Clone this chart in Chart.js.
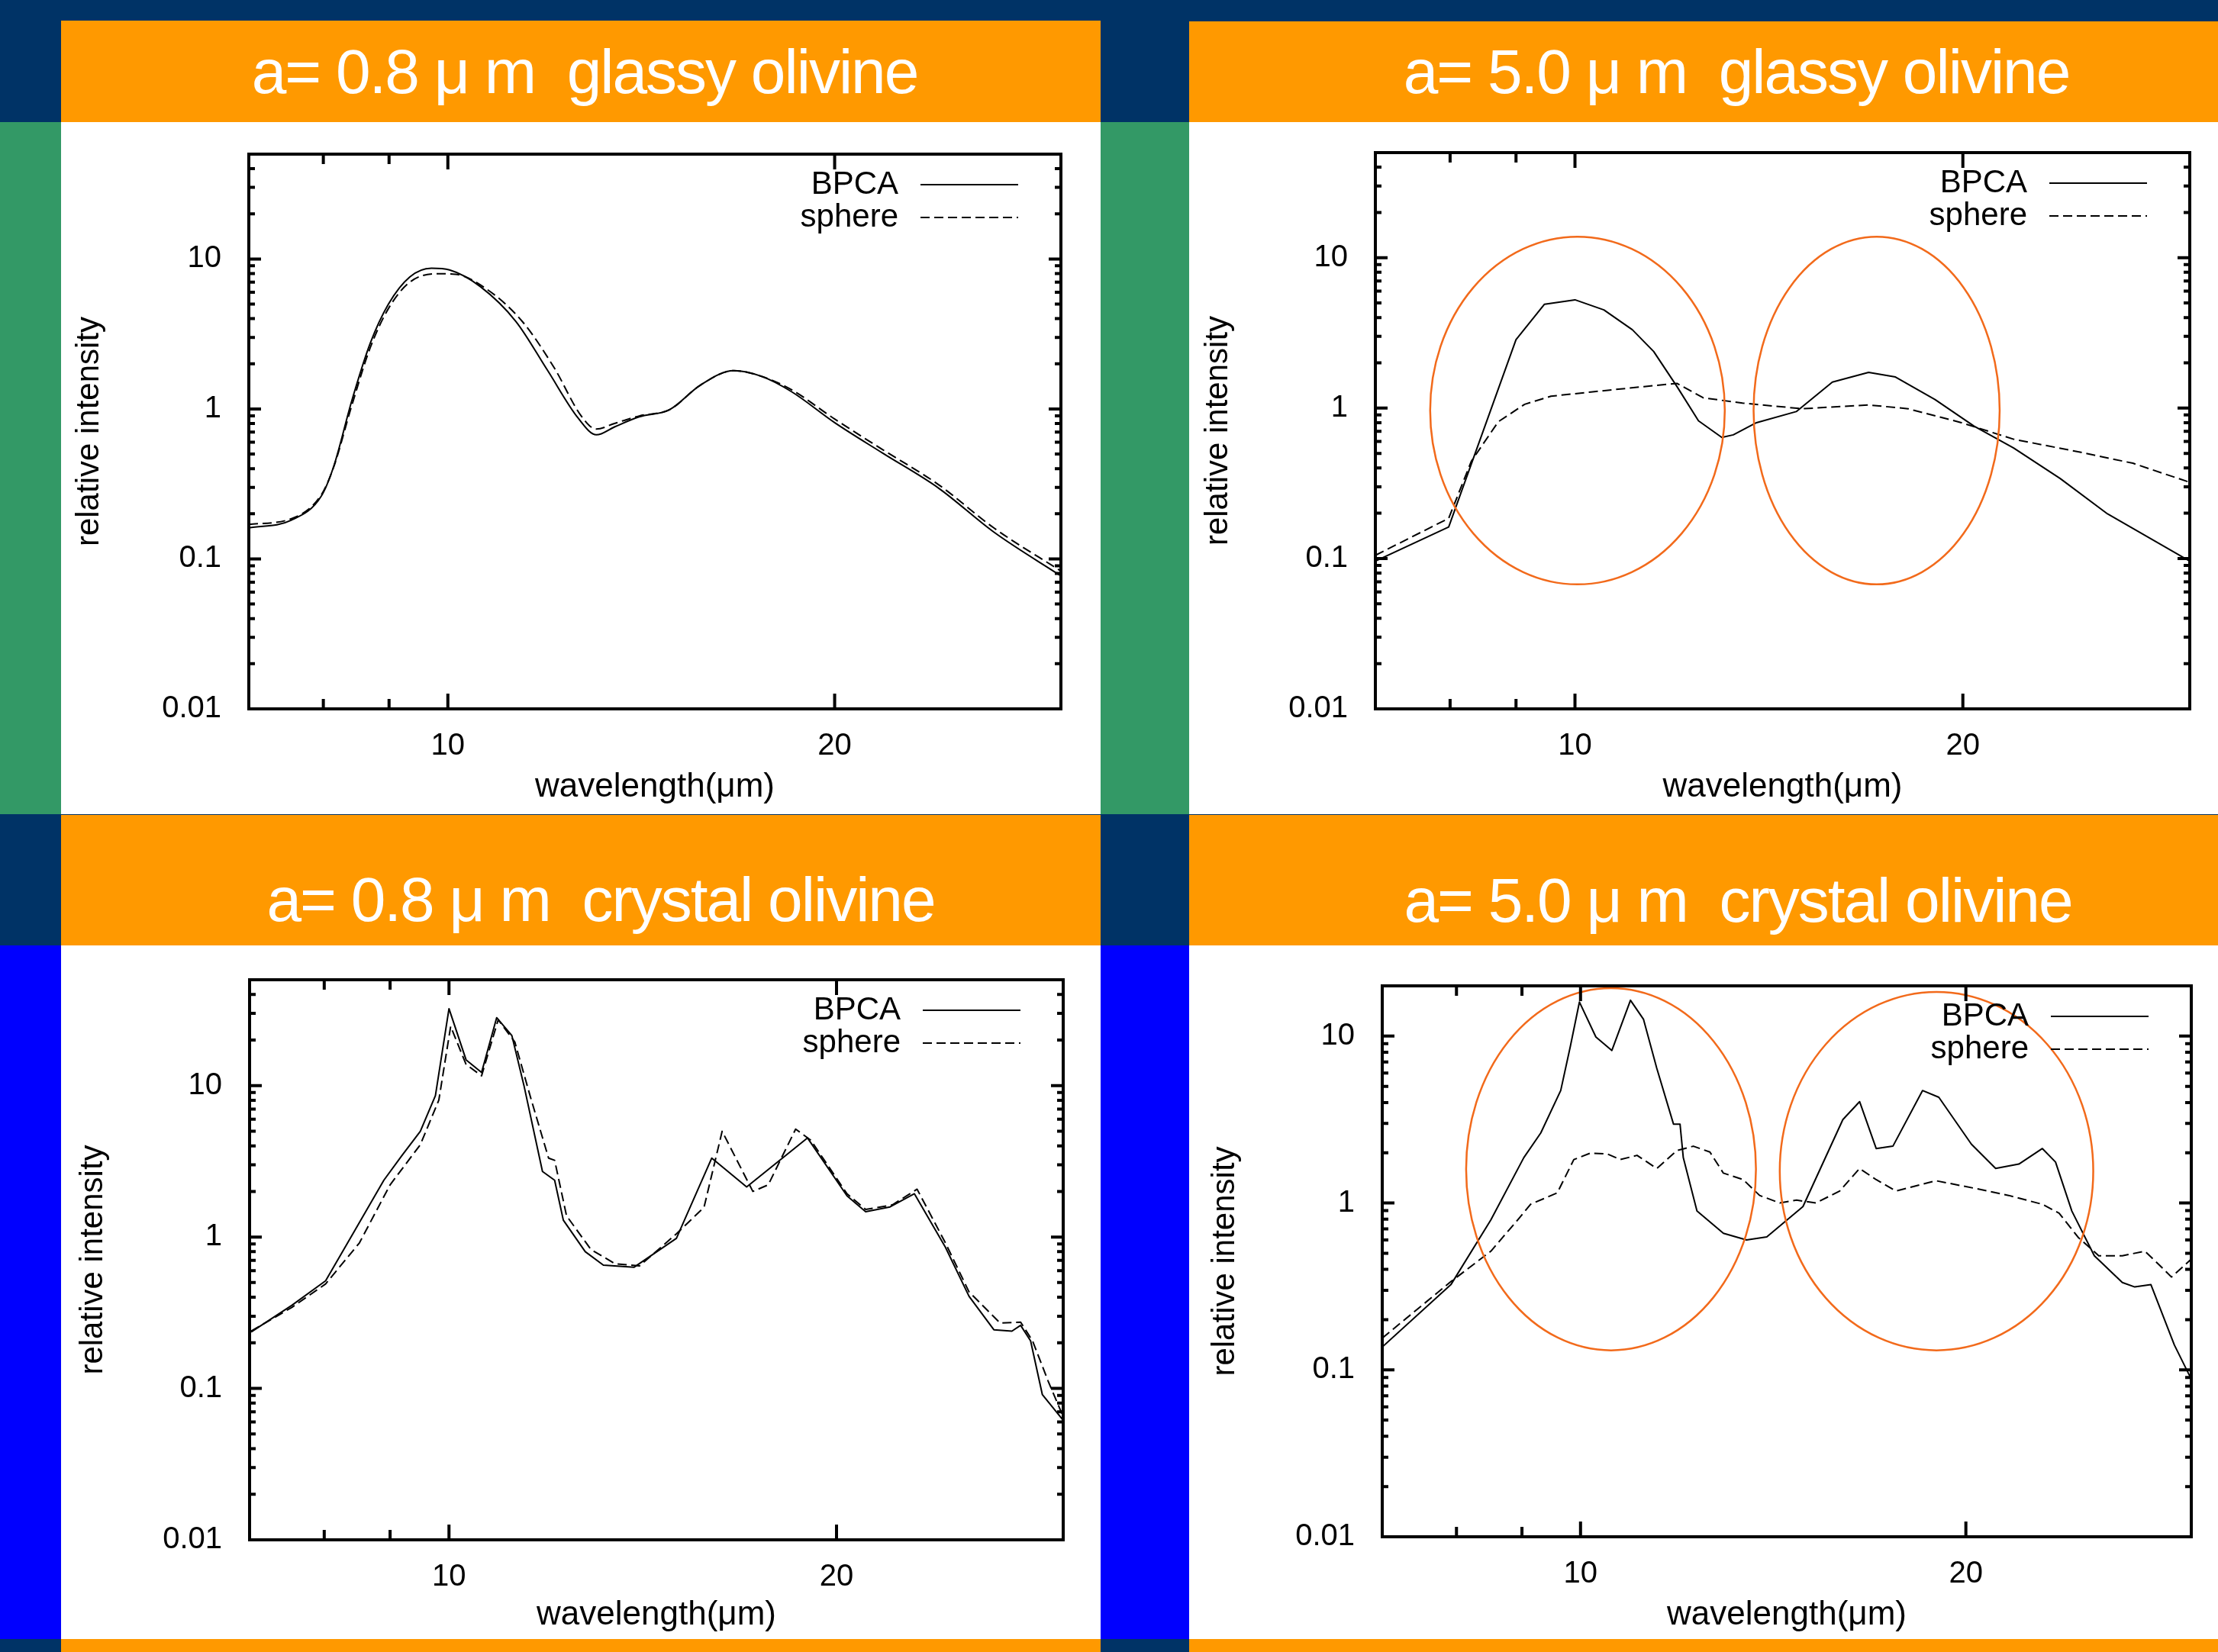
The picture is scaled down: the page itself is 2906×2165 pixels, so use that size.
<!DOCTYPE html>
<html>
<head>
<meta charset="utf-8">
<script src="https://cdn.jsdelivr.net/npm/chart.js@4.4.1/dist/chart.umd.min.js"></script>
<style>
  body { margin: 0; width: 2906px; height: 2165px; background: #003366; position: relative; overflow: hidden;
         font-family: "Liberation Sans", Arial, sans-serif; }
  .blk { position: absolute; }
  .orange { background: #ff9900; }
  .green { background: #339966; }
  .blue { background: #0000ff; }
  .panel { position: absolute; background: #fff; }
  .hdr { position: absolute; color: #fff; font-size: 82px; line-height: 82px; letter-spacing: -2px;
         white-space: pre; transform: translateX(-50%); }
  canvas { display: block; }
</style>
</head>
<body>
<!-- side strips -->
<div class="blk green" style="left:0;top:160px;width:80px;height:907px"></div>
<div class="blk blue" style="left:0;top:1239px;width:80px;height:909px"></div>
<div class="blk green" style="left:1442px;top:160px;width:116px;height:907px"></div>
<div class="blk blue" style="left:1442px;top:1239px;width:116px;height:909px"></div>

<!-- header bars -->
<div class="blk orange" style="left:80px;top:27px;width:1362px;height:133px"></div>
<div class="blk orange" style="left:1558px;top:28px;width:1348px;height:132px"></div>
<div class="blk orange" style="left:80px;top:1068px;width:1362px;height:171px"></div>
<div class="blk orange" style="left:1558px;top:1068px;width:1348px;height:171px"></div>
<div class="blk orange" style="left:80px;top:2148px;width:1362px;height:17px"></div>
<div class="blk orange" style="left:1558px;top:2148px;width:1348px;height:17px"></div>

<div class="hdr" style="left:766px;top:53px">a= 0.8 μ m  glassy olivine</div>
<div class="hdr" style="left:2275px;top:53px">a= 5.0 μ m  glassy olivine</div>
<div class="hdr" style="left:787px;top:1138px">a= 0.8 μ m  crystal olivine</div>
<div class="hdr" style="left:2277px;top:1139px">a= 5.0 μ m  crystal olivine</div>

<div class="panel" style="left:80px;top:160px;width:1362px;height:907px"><canvas id="tl" width="1362" height="907"></canvas></div>
<div class="panel" style="left:1558px;top:160px;width:1348px;height:907px"><canvas id="tr" width="1348" height="907"></canvas></div>
<div class="panel" style="left:80px;top:1239px;width:1362px;height:909px"><canvas id="bl" width="1362" height="909"></canvas></div>
<div class="panel" style="left:1558px;top:1239px;width:1348px;height:909px"><canvas id="br" width="1348" height="909"></canvas></div>

<script>
/* global Chart */

// axis ticks
const xTickValues = [8, 9, 10, 20, 30];
const xTickLabels = [10, 20];
const yDecades = [0.01, 0.1, 1, 10];
const yMinorSteps = [1, 2, 3, 4, 5, 6, 7, 8, 9];

// a = 0.8 um glassy olivine
const tlBpcaWave = [7.0, 7.55, 7.97, 8.15, 8.42, 8.70, 8.99, 9.34, 9.71, 10.03, 10.6, 11.3, 11.95, 12.63, 13.05, 13.48, 14.09, 14.88, 15.72, 16.69, 17.54, 18.52, 20.0, 21.8, 24.1, 26.6, 30.0];
const tlBpcaVal = [0.161, 0.181, 0.262, 0.414, 1.14, 2.73, 5.0, 7.59, 8.68, 8.45, 6.54, 3.82, 1.82, 0.869, 0.672, 0.759, 0.886, 0.99, 1.44, 1.80, 1.65, 1.30, 0.81, 0.507, 0.296, 0.151, 0.077];
const tlSphereWave = [7.0, 7.55, 7.97, 8.15, 8.42, 8.70, 8.99, 9.34, 9.82, 10.14, 10.72, 11.43, 12.1, 12.7, 13.05, 13.48, 14.09, 14.88, 15.72, 16.69, 17.54, 18.52, 20.0, 21.8, 24.1, 26.6, 30.0];
const tlSphereVal = [0.170, 0.185, 0.267, 0.41, 1.06, 2.55, 4.67, 7.0, 7.98, 7.9, 6.3, 3.82, 1.88, 0.898, 0.734, 0.80, 0.898, 0.99, 1.44, 1.80, 1.65, 1.34, 0.856, 0.535, 0.312, 0.161, 0.083];

// a = 5.0 um glassy olivine
const trBpcaWave = [7.0, 7.98, 9.0, 9.47, 10.0, 10.53, 11.08, 11.51, 12.0, 12.47, 13.0, 13.27, 13.83, 14.85, 15.84, 16.9, 17.73, 19.03, 20.4, 21.9, 23.8, 25.9, 30.0];
const trBpcaVal = [0.096, 0.162, 2.85, 4.91, 5.25, 4.5, 3.32, 2.38, 1.39, 0.823, 0.638, 0.664, 0.80, 0.948, 1.49, 1.73, 1.61, 1.14, 0.759, 0.543, 0.34, 0.198, 0.096];
const trSphereWave = [7.0, 7.98, 8.31, 8.72, 9.14, 9.58, 10.29, 11.31, 12.0, 12.58, 13.49, 15.02, 16.9, 18.14, 19.95, 21.9, 24.7, 27.1, 30.0];
const trSphereVal = [0.105, 0.185, 0.444, 0.812, 1.06, 1.20, 1.28, 1.39, 1.46, 1.17, 1.08, 0.99, 1.05, 0.99, 0.80, 0.621, 0.508, 0.43, 0.321];

// a = 0.8 um crystal olivine
const blBpcaWave = [7.02, 7.55, 8.02, 8.42, 8.90, 9.19, 9.50, 9.76, 10.0, 10.31, 10.6, 10.89, 11.19, 11.44, 11.82, 12.08, 12.27, 12.76, 13.18, 13.92, 15.02, 16.0, 17.03, 18.99, 20.38, 21.07, 22.01, 22.99, 24.3, 25.35, 26.5, 27.37, 27.8, 28.3, 28.9, 30.0];
const blBpcaVal = [0.236, 0.354, 0.514, 1.05, 2.37, 3.44, 4.99, 8.59, 32.2, 14.8, 12.2, 28.1, 21.4, 9.84, 2.71, 2.37, 1.29, 0.80, 0.652, 0.631, 0.98, 3.32, 2.14, 4.51, 1.87, 1.47, 1.58, 1.93, 0.856, 0.406, 0.244, 0.239, 0.261, 0.206, 0.0912, 0.0616];
const blSphereWave = [7.02, 7.55, 8.02, 8.52, 9.0, 9.5, 9.82, 10.03, 10.31, 10.6, 10.92, 11.25, 11.56, 11.95, 12.08, 12.34, 12.89, 13.46, 14.06, 15.02, 15.78, 16.30, 17.22, 17.7, 18.59, 19.1, 20.38, 21.07, 22.1, 23.1, 24.3, 25.35, 26.8, 27.8, 28.4, 29.2, 30.0];
const blSphereVal = [0.239, 0.343, 0.49, 0.915, 2.21, 4.07, 8.02, 24.6, 13.8, 11.6, 27.2, 19.4, 8.59, 3.32, 3.21, 1.38, 0.827, 0.666, 0.644, 1.05, 1.57, 4.99, 2.0, 2.21, 5.16, 4.36, 1.93, 1.52, 1.63, 2.07, 0.915, 0.434, 0.27, 0.274, 0.206, 0.112, 0.065];

// a = 5.0 um crystal olivine
const brBpcaWave = [7.0, 7.92, 8.51, 9.03, 9.31, 9.65, 9.82, 9.98, 10.28, 10.58, 10.94, 11.2, 11.47, 11.82, 11.96, 12.03, 12.33, 12.93, 13.48, 13.98, 14.92, 16.03, 16.52, 17.02, 17.54, 18.5, 19.05, 20.2, 21.1, 22.0, 22.95, 23.5, 24.2, 25.2, 26.5, 27.1, 27.9, 29.1, 30.0];
const brBpcaVal = [0.137, 0.324, 0.791, 1.87, 2.63, 4.72, 8.73, 16.0, 9.88, 8.2, 16.4, 12.6, 6.42, 2.97, 2.97, 1.87, 0.895, 0.658, 0.6, 0.627, 0.952, 3.16, 4.05, 2.12, 2.19, 4.72, 4.3, 2.25, 1.61, 1.71, 2.12, 1.76, 0.895, 0.483, 0.334, 0.314, 0.324, 0.141, 0.088];
const brSphereWave = [7.0, 7.92, 8.51, 8.93, 9.14, 9.59, 9.88, 10.18, 10.49, 10.74, 11.07, 11.47, 11.89, 12.25, 12.62, 12.93, 13.4, 13.8, 14.31, 14.75, 15.27, 15.94, 16.52, 17.02, 17.64, 18.95, 20.37, 21.6, 22.95, 23.65, 24.5, 25.4, 26.5, 27.6, 28.3, 28.95, 30.0];
const brSphereVal = [0.155, 0.338, 0.514, 0.791, 0.982, 1.15, 1.82, 1.99, 1.97, 1.82, 1.93, 1.61, 2.06, 2.19, 2.02, 1.51, 1.38, 1.11, 1.0, 1.04, 1.0, 1.18, 1.61, 1.38, 1.18, 1.36, 1.22, 1.11, 0.982, 0.869, 0.618, 0.483, 0.483, 0.514, 0.428, 0.36, 0.461];

// highlighted bands: [wave from, wave to, intensity low, intensity high]
const trEllipses = [[7.72, 13.07, 0.0673, 13.8], [13.76, 21.36, 0.0673, 13.8]];
const brEllipses = [[8.14, 13.71, 0.131, 19.4], [14.31, 25.15, 0.131, 18.4]];

Chart.defaults.font.family = '"Liberation Sans", Arial, sans-serif';
Chart.defaults.color = '#000';

function points(xs, ys) {
    return xs.map((x, i) => ({ x: x, y: ys[i] }));
}

function yTickValues(ymax) {
    const out = [];
    yDecades.forEach(d => yMinorSteps.forEach(m => out.push(d * m)));
    return out.filter(v => v <= ymax * 1.0001);
}

// gnuplot-style frame with inward ticks on all four sides
const gnuFrame = {
    id: 'gnuFrame',
    afterDatasetsDraw(chart) {
        const { ctx, chartArea: a, scales: { x, y } } = chart;
        ctx.save();
        ctx.strokeStyle = '#000';
        ctx.lineWidth = 4;
        ctx.lineCap = 'butt';
        ctx.beginPath();
        x.ticks.forEach(t => {
            const px = x.getPixelForValue(t.value);
            const len = xTickLabels.includes(t.value) ? 20 : 13;
            ctx.moveTo(px, a.bottom);
            ctx.lineTo(px, a.bottom - len);
            ctx.moveTo(px, a.top);
            ctx.lineTo(px, a.top + len);
        });
        y.ticks.forEach(t => {
            const py = y.getPixelForValue(t.value);
            const len = yDecades.includes(t.value) ? 16 : 8;
            ctx.moveTo(a.left, py);
            ctx.lineTo(a.left + len, py);
            ctx.moveTo(a.right, py);
            ctx.lineTo(a.right - len, py);
        });
        ctx.stroke();
        ctx.strokeRect(a.left, a.top, a.right - a.left, a.bottom - a.top);
        ctx.restore();
    }
};

// key in the top right corner: label, then a line sample
const gnuKey = {
    id: 'gnuKey',
    afterDraw(chart) {
        const { ctx, chartArea: a } = chart;
        ctx.save();
        ctx.font = '42px "Liberation Sans", Arial, sans-serif';
        ctx.fillStyle = '#000';
        ctx.textAlign = 'right';
        ctx.textBaseline = 'middle';
        chart.data.datasets.forEach((ds, i) => {
            const yy = a.top + 40 + i * 43;
            ctx.fillText(ds.label, a.right - 213, yy);
            ctx.strokeStyle = '#000';
            ctx.lineWidth = 2;
            ctx.setLineDash(ds.borderDash || []);
            ctx.beginPath();
            ctx.moveTo(a.right - 184, yy);
            ctx.lineTo(a.right - 56, yy);
            ctx.stroke();
        });
        ctx.restore();
    }
};

// orange ellipses given in data coordinates
const bands = {
    id: 'bands',
    afterDatasetsDraw(chart, args, opts) {
        const { ctx, scales: { x, y } } = chart;
        ctx.save();
        ctx.strokeStyle = '#f26a1b';
        ctx.lineWidth = 2.5;
        (opts.list || []).forEach(e => {
            const x1 = x.getPixelForValue(e[0]), x2 = x.getPixelForValue(e[1]);
            const y1 = y.getPixelForValue(e[2]), y2 = y.getPixelForValue(e[3]);
            ctx.beginPath();
            ctx.ellipse((x1 + x2) / 2, (y1 + y2) / 2, Math.abs(x2 - x1) / 2, Math.abs(y2 - y1) / 2, 0, 0, Math.PI * 2);
            ctx.stroke();
        });
        ctx.restore();
    }
};

function makeChart(p) {
    const lineStyle = {
        borderColor: '#000',
        borderWidth: 2,
        pointRadius: 0,
        fill: false,
        borderJoinStyle: 'round',
        tension: 0,
        cubicInterpolationMode: p.smooth ? 'monotone' : 'default'
    };
    return new Chart(document.getElementById(p.id), {
        type: 'line',
        data: {
            datasets: [
                Object.assign({ label: 'BPCA', data: points(p.bw, p.bv) }, lineStyle),
                Object.assign({ label: 'sphere', data: points(p.sw, p.sv), borderDash: [12, 6] }, lineStyle)
            ]
        },
        options: {
            responsive: false,
            animation: false,
            events: [],
            layout: { padding: { left: 0, right: p.right, top: p.top, bottom: 0 } },
            plugins: {
                legend: { display: false },
                tooltip: { enabled: false },
                bands: { list: p.ellipses }
            },
            scales: {
                x: {
                    type: 'logarithmic',
                    min: 7,
                    max: 30,
                    grid: { display: false },
                    border: { display: false },
                    afterBuildTicks: s => { s.ticks = xTickValues.map(v => ({ value: v })); },
                    afterFit: s => { s.height = p.bottom; s.paddingLeft = 0; s.paddingRight = 0; },
                    ticks: {
                        autoSkip: false,
                        maxRotation: 0,
                        padding: 17,
                        font: { size: 40 },
                        callback: v => (xTickLabels.includes(v) ? String(v) : '')
                    },
                    title: {
                        display: true,
                        text: 'wavelength(μm)',
                        font: { size: 44 },
                        padding: { top: 0, bottom: p.xtPad }
                    }
                },
                y: {
                    type: 'logarithmic',
                    min: 0.01,
                    max: p.ymax,
                    grid: { display: false },
                    border: { display: false },
                    afterBuildTicks: s => { s.ticks = yTickValues(p.ymax).map(v => ({ value: v })); },
                    afterFit: s => { s.width = p.left; s.paddingTop = 0; s.paddingBottom = 0; },
                    ticks: {
                        autoSkip: false,
                        padding: 28,
                        font: { size: 40 },
                        callback: v => (yDecades.includes(v) ? String(v) : '')
                    },
                    title: {
                        display: true,
                        text: 'relative intensity',
                        font: { size: 42 },
                        padding: { top: p.ytPad, bottom: 0 }
                    }
                }
            }
        },
        plugins: [bands, gnuFrame, gnuKey]
    });
}

const panels = [
    { id: 'tl', left: 246, right: 52, top: 42, bottom: 138, ymax: 50, ytPad: 12, xtPad: 9,
      bw: tlBpcaWave, bv: tlBpcaVal, sw: tlSphereWave, sv: tlSphereVal, smooth: true, ellipses: [] },
    { id: 'tr', left: 244, right: 37, top: 40, bottom: 138, ymax: 50, ytPad: 13, xtPad: 9,
      bw: trBpcaWave, bv: trBpcaVal, sw: trSphereWave, sv: trSphereVal, smooth: false, ellipses: trEllipses },
    { id: 'bl', left: 247, right: 49, top: 45, bottom: 130, ymax: 50, ytPad: 17, xtPad: 5,
      bw: blBpcaWave, bv: blBpcaVal, sw: blSphereWave, sv: blSphereVal, smooth: false, ellipses: [] },
    { id: 'br', left: 253, right: 35, top: 53, bottom: 134, ymax: 20, ytPad: 22, xtPad: 5,
      bw: brBpcaWave, bv: brBpcaVal, sw: brSphereWave, sv: brSphereVal, smooth: false, ellipses: brEllipses }
];

panels.forEach(makeChart);
</script>
</body>
</html>
